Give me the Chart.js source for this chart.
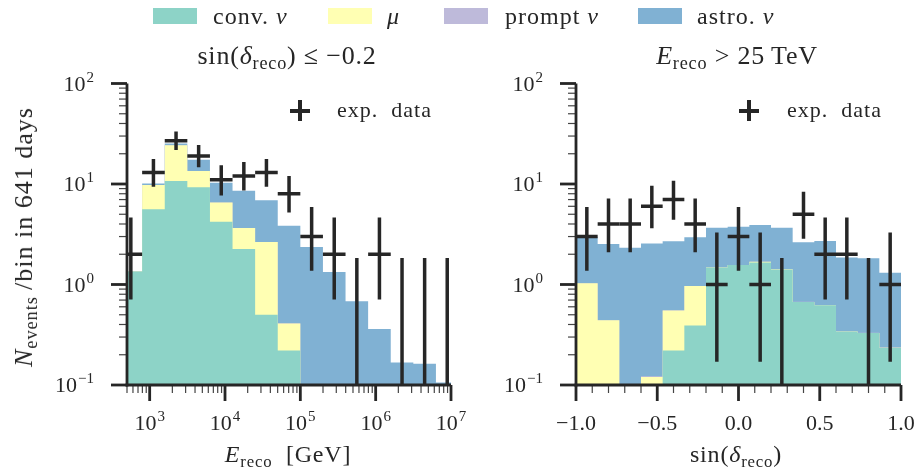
<!DOCTYPE html>
<html>
<head>
<meta charset="utf-8">
<script src="https://cdn.jsdelivr.net/npm/chart.js@4.4.1/dist/chart.umd.min.js"></script>
<style>
  body { margin: 0; background: #fff; }
  #wrap { position: relative; width: 918px; height: 469px; font-family: "Liberation Serif", serif; color: #262626; }
  canvas { position: absolute; top: 0; left: 0; }
  .txt { position: absolute; white-space: nowrap; line-height: 1; }
  .ctr { transform: translateX(-50%); }
  .sub { font-size: 0.7em; position: relative; top: 0.28em; }
  .patch { position: absolute; top: 8px; width: 44px; height: 16px; }
  .leg { font-size: 24px; letter-spacing: 1px; top: 3.5px; }
  .bar { position: absolute; background: #262626; }
</style>
</head>
<body>
<div id="wrap">
  <canvas id="energyChart" width="918" height="469"></canvas>
  <canvas id="declChart" width="918" height="469"></canvas>

  <!-- shared legend -->
  <div class="patch" style="left:153px;background:#8dd3c7"></div>
  <div class="txt leg" style="left:213px">conv. <i>ν</i></div>
  <div class="patch" style="left:328px;background:#ffffb3"></div>
  <div class="txt leg" style="left:387px"><i>μ</i></div>
  <div class="patch" style="left:444px;background:#bebada"></div>
  <div class="txt leg" style="left:505px">prompt <i>ν</i></div>
  <div class="patch" style="left:638px;background:#80b1d3"></div>
  <div class="txt leg" style="left:697px">astro. <i>ν</i></div>

  <!-- panel titles -->
  <div class="txt ctr" style="left:287px;top:43px;font-size:26px;letter-spacing:0.8px">sin(<i>δ</i><span class="sub">reco</span>) ≤ −0.2</div>
  <div class="txt ctr" style="left:737px;top:43px;font-size:26px;letter-spacing:0.8px"><i>E</i><span class="sub">reco</span> &gt; 25&thinsp;TeV</div>

  <!-- data legend inside each panel -->
  <div class="bar" style="left:298px;top:100px;width:3.5px;height:21px"></div>
  <div class="bar" style="left:290px;top:109px;width:20px;height:3.5px"></div>
  <div class="txt" style="left:337px;top:99px;font-size:22px;letter-spacing:1px">exp.&nbsp; data</div>
  <div class="bar" style="left:747px;top:100px;width:3.5px;height:21px"></div>
  <div class="bar" style="left:739px;top:109px;width:20px;height:3.5px"></div>
  <div class="txt" style="left:787px;top:99px;font-size:22px;letter-spacing:1px">exp.&nbsp; data</div>

  <!-- axis titles -->
  <div class="txt ctr" style="left:288px;top:442px;font-size:24px;letter-spacing:0.8px"><i>E</i><span class="sub">reco</span>&nbsp; [GeV]</div>
  <div class="txt ctr" style="left:736px;top:442px;font-size:24px;letter-spacing:0.8px">sin(<i>δ</i><span class="sub">reco</span>)</div>
  <div class="txt" style="left:24px;top:237px;font-size:26px;letter-spacing:1px;transform:translate(-50%,-50%) rotate(-90deg)"><i>N</i><span class="sub">events</span>&thinsp;/bin in 641 days</div>
</div>

<script>
// energy histogram, sin(dec) <= -0.2 (bin edges in GeV)
const energyEdges = [398, 794, 1585, 3162, 6310, 12589, 25119, 50119, 100000, 199526, 398107, 794328, 1584893, 3162278, 6309573, 12589254];
const energyConv   = [1.35, 5.6, 10.7, 9.3, 4.2, 2.25, 0.50, 0.22, 0, 0, 0, 0, 0, 0, 0];
const energyMuon   = [0, 4.15, 13.6, 4.2, 2.35, 1.4, 2.15, 0.19, 0, 0, 0, 0, 0, 0, 0];
const energyPrompt = [0, 0.002, 0.004, 0.004, 0.004, 0.003, 0.003, 0.002, 0.002, 0.001, 0.001, 0.001, 0, 0, 0];
const energyAstro  = [0, 0.35, 1.0, 3.95, 3.75, 4.9, 4.25, 3.43, 2.36, 1.33, 0.68, 0.36, 0.167, 0.163, 0.106];
const energyCounts = [2, 13, 27, 19, 11, 12, 13, 8, 3, 2, 0, 2, 0, 0, 0];
const energyLower  = [0.71, 9.4, 21.8, 14.7, 7.7, 8.6, 9.4, 5.2, 1.37, 0.71, 0, 0.71, 0, 0, 0];
const energyUpper  = [4.64, 17.7, 33.3, 24.4, 15.4, 16.6, 17.7, 12.0, 5.92, 4.64, 1.84, 4.64, 1.84, 1.84, 1.84];
const energyTicks  = [1e3, 1e4, 1e5, 1e6, 1e7];

// declination histogram, E_reco > 25 TeV
const declEdges  = [-1, -0.8667, -0.7333, -0.6, -0.4667, -0.3333, -0.2, -0.0667, 0.0667, 0.2, 0.3333, 0.4667, 0.6, 0.7333, 0.8667, 1];
const declConv   = [0, 0, 0, 0, 0.22, 0.39, 1.48, 1.56, 1.66, 1.41, 0.67, 0.62, 0.34, 0.33, 0.235];
const declMuon   = [1.03, 0.44, 0, 0.12, 0.33, 0.575, 0, 0, 0.02, 0.01, 0, 0, 0, 0, 0];
const declPrompt = [0.002, 0.002, 0.002, 0.002, 0.003, 0.003, 0.004, 0.004, 0.004, 0.004, 0.003, 0.003, 0.003, 0.002, 0.002];
const declAstro  = [1.95, 2.08, 2.32, 2.44, 2.14, 1.98, 2.19, 2.19, 2.22, 2.25, 1.96, 2.08, 1.51, 1.49, 1.07];
const declCounts = [3, 4, 4, 6, 7, 4, 1, 3, 1, 0, 5, 2, 2, 0, 1];
const declLower  = [1.37, 2.09, 2.09, 3.63, 4.42, 2.09, 0.17, 1.37, 0.17, 0, 2.85, 0.71, 0.71, 0, 0.17];
const declUpper  = [5.92, 7.18, 7.18, 9.58, 10.77, 7.18, 3.30, 5.92, 3.30, 1.84, 8.38, 4.64, 4.64, 1.84, 3.30];
const declTicks  = [-1, -0.5, 0, 0.5, 1];

const countTicks = [0.1, 1, 10, 100];
const colors = ['#8dd3c7', '#ffffb3', '#bebada', '#80b1d3'];
const ink = '#262626';

// running sums of the stacked components, bottom layer first
function stackLayers(layers) {
  const sums = [];
  let run = layers[0].map(() => 0);
  layers.forEach(layer => {
    run = run.map((v, i) => v + layer[i]);
    sums.push(run);
  });
  return sums;
}

// one point per left bin edge, plus the closing right edge
function stepData(edges, values) {
  const pts = values.map((v, i) => ({ x: edges[i], y: Math.max(v, 1e-3) }));
  pts.push({ x: edges[edges.length - 1], y: Math.max(values[values.length - 1], 1e-3) });
  return pts;
}

function histDatasets(edges, layers) {
  // dataset 0 is painted last, so the lowest layer sits on top
  return stackLayers(layers).map((sum, i) => ({
    data: stepData(edges, sum),
    stepped: true,
    fill: 'origin',
    backgroundColor: colors[i],
    borderWidth: 0,
    pointRadius: 0
  }));
}

function drawPower(ctx, value, x, y, align) {
  const exp = String(Math.round(Math.log10(value))).replace('-', '\u2212');
  ctx.font = '22px "Liberation Serif"';
  const w1 = ctx.measureText('10').width;
  ctx.font = '15px "Liberation Serif"';
  const w2 = ctx.measureText(exp).width;
  const left = align === 'right' ? x - w1 - w2 - 1 : x - (w1 + w2 + 1) / 2;
  ctx.font = '22px "Liberation Serif"';
  ctx.fillText('10', left, y);
  ctx.font = '15px "Liberation Serif"';
  ctx.fillText(exp, left + w1 + 1, y - 9);
}

function tickLine(ctx, x0, y0, x1, y1, width, color) {
  ctx.lineWidth = width;
  ctx.strokeStyle = color;
  ctx.beginPath();
  ctx.moveTo(x0, y0);
  ctx.lineTo(x1, y1);
  ctx.stroke();
}

const histAxes = {
  id: 'histAxes',
  afterDatasetsDraw(chart, args, opts) {
    const ctx = chart.ctx;
    const xs = chart.scales.x, ys = chart.scales.y;
    const area = chart.chartArea;

    // data points with poisson intervals
    ctx.save();
    ctx.beginPath();
    ctx.rect(area.left, area.top - 20, area.right - area.left, area.bottom - area.top + 20);
    ctx.clip();
    ctx.lineCap = 'butt';
    opts.counts.forEach((n, i) => {
      const lo = opts.edges[i], hi = opts.edges[i + 1];
      const center = opts.logX ? Math.sqrt(lo * hi) : (lo + hi) / 2;
      const xc = xs.getPixelForValue(center);
      const yLow = opts.lower[i] > 0 ? ys.getPixelForValue(opts.lower[i]) : area.bottom;
      tickLine(ctx, xc, yLow, xc, ys.getPixelForValue(opts.upper[i]), 3.5, ink);
      if (n > 0) {
        const yc = ys.getPixelForValue(n);
        tickLine(ctx, xs.getPixelForValue(lo), yc, xs.getPixelForValue(hi), yc, 3.5, ink);
      }
    });
    ctx.restore();

    ctx.save();
    ctx.lineCap = 'butt';
    // minor ticks
    for (let d = 0.1; d < 100; d *= 10) {
      for (let k = 2; k <= 9; k++) {
        const py = ys.getPixelForValue(k * d);
        tickLine(ctx, area.left - 8, py, area.left, py, 1.2, '#444');
      }
    }
    if (opts.logX) {
      for (let d = 100; d < 1e7; d *= 10) {
        for (let k = 2; k <= 9; k++) {
          const v = k * d;
          if (v < xs.min || v > xs.max) continue;
          const px = xs.getPixelForValue(v);
          tickLine(ctx, px, area.bottom, px, area.bottom + 8, 1.2, '#444');
        }
      }
    } else {
      for (let k = -9; k <= 9; k++) {
        if (k % 5 === 0) continue;
        const px = xs.getPixelForValue(k / 10);
        tickLine(ctx, px, area.bottom, px, area.bottom + 8, 1.2, '#444');
      }
    }

    // spines
    tickLine(ctx, area.left, area.top, area.left, area.bottom + 1.4, 2.8, ink);
    tickLine(ctx, area.left - 1.4, area.bottom, area.right, area.bottom, 2.8, ink);

    // major ticks and labels
    ctx.fillStyle = ink;
    ctx.textBaseline = 'alphabetic';
    ctx.textAlign = 'left';
    countTicks.forEach(v => {
      const py = ys.getPixelForValue(v);
      tickLine(ctx, area.left - 16, py, area.left, py, 2.8, ink);
      drawPower(ctx, v, area.left - 33, py + 7, 'right');
    });
    opts.xTicks.forEach(v => {
      const px = xs.getPixelForValue(v);
      tickLine(ctx, px, area.bottom, px, area.bottom + 16, 2.8, ink);
      if (opts.logX) {
        drawPower(ctx, v, px, 430, 'center');
      } else {
        ctx.font = '22px "Liberation Serif"';
        ctx.textAlign = 'center';
        ctx.fillText(v.toFixed(1).replace('-', '\u2212'), px, 430);
        ctx.textAlign = 'left';
      }
    });
    ctx.restore();
  }
};

function makeChart(id, edges, layers, scaleX, padding, points) {
  return new Chart(document.getElementById(id), {
    type: 'line',
    data: { datasets: histDatasets(edges, layers) },
    options: {
      responsive: false,
      animation: false,
      devicePixelRatio: 1,
      events: [],
      layout: { padding: padding },
      plugins: {
        legend: { display: false },
        tooltip: { enabled: false },
        histAxes: points
      },
      scales: {
        x: Object.assign({ display: false }, scaleX),
        y: { type: 'logarithmic', min: 0.1, max: 100, display: false }
      }
    },
    plugins: [histAxes]
  });
}

makeChart('energyChart', energyEdges,
  [energyConv, energyMuon, energyPrompt, energyAstro],
  { type: 'logarithmic', min: 500, max: 1e7 },
  { left: 127, right: 467, top: 83.5, bottom: 84 },
  { edges: energyEdges, counts: energyCounts, lower: energyLower, upper: energyUpper, xTicks: energyTicks, logX: true });

makeChart('declChart', declEdges,
  [declConv, declMuon, declPrompt, declAstro],
  { type: 'linear', min: -1, max: 1 },
  { left: 576, right: 17, top: 83.5, bottom: 84 },
  { edges: declEdges, counts: declCounts, lower: declLower, upper: declUpper, xTicks: declTicks, logX: false });
</script>
</body>
</html>
